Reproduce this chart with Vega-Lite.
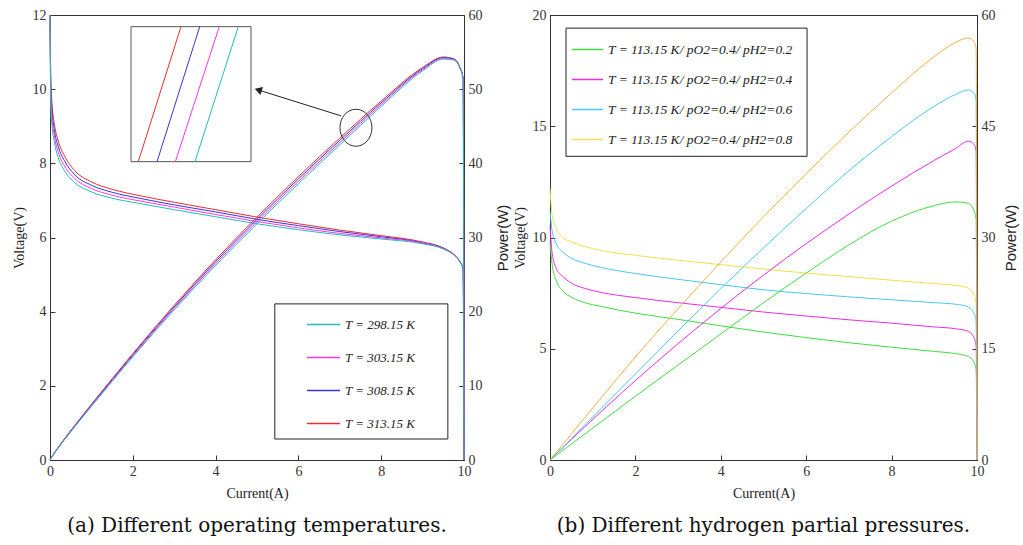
{
"$schema": "https://vega.github.io/schema/vega-lite/v6.json",
"background": "white",
"padding": {"left": 11, "top": 7, "right": 2, "bottom": 3},
"spacing": 1,
"config": {
  "view": {"stroke": "#333", "strokeWidth": 1},
  "axis": {"grid": false, "domainColor": "#333", "tickColor": "#333", "tickSize": -5, "labelFont": "Liberation Serif", "labelFontSize": 14, "labelColor": "#333", "labelPadding": 9, "labelFlush": false, "titleFont": "Liberation Serif", "titleFontSize": 14, "titleFontWeight": "normal", "titleColor": "#222"},
  "title": {"font": "DejaVu Serif", "fontSize": 20, "fontWeight": "normal", "color": "#111"}
},
"datasets": {
  "left": [
    {"s":"T = 313.15 K","I":0,"V":12.0,"P":0},{"s":"T = 313.15 K","I":0.02,"V":10.3,"P":0.21},{"s":"T = 313.15 K","I":0.05,"V":9.6,"P":0.48},{"s":"T = 313.15 K","I":0.1,"V":9.1,"P":0.91},{"s":"T = 313.15 K","I":0.2,"V":8.6,"P":1.72},{"s":"T = 313.15 K","I":0.35,"V":8.2,"P":2.87},{"s":"T = 313.15 K","I":0.6,"V":7.8,"P":4.68},{"s":"T = 313.15 K","I":1.0,"V":7.5,"P":7.5},{"s":"T = 313.15 K","I":1.5,"V":7.3,"P":10.95},{"s":"T = 313.15 K","I":2.2,"V":7.12,"P":15.66},{"s":"T = 313.15 K","I":3,"V":6.95,"P":20.85},{"s":"T = 313.15 K","I":4,"V":6.75,"P":27.0},{"s":"T = 313.15 K","I":5,"V":6.55,"P":32.75},{"s":"T = 313.15 K","I":6,"V":6.37,"P":38.22},{"s":"T = 313.15 K","I":7,"V":6.2,"P":43.4},{"s":"T = 313.15 K","I":8,"V":6.05,"P":48.4},{"s":"T = 313.15 K","I":9,"V":5.88,"P":52.92},{"s":"T = 313.15 K","I":9.5,"V":5.72,"P":54.34},{"s":"T = 313.15 K","I":9.75,"V":5.55,"P":54.11},{"s":"T = 313.15 K","I":9.9,"V":5.35,"P":52.97},{"s":"T = 313.15 K","I":9.98,"V":5.15,"P":51.4},{"s":"T = 313.15 K","I":10,"V":0,"P":0},
    {"s":"T = 308.15 K","I":0,"V":12.0,"P":0},{"s":"T = 308.15 K","I":0.02,"V":10.03,"P":0.2},{"s":"T = 308.15 K","I":0.05,"V":9.4,"P":0.47},{"s":"T = 308.15 K","I":0.1,"V":8.93,"P":0.89},{"s":"T = 308.15 K","I":0.2,"V":8.45,"P":1.69},{"s":"T = 308.15 K","I":0.35,"V":8.07,"P":2.82},{"s":"T = 308.15 K","I":0.6,"V":7.69,"P":4.62},{"s":"T = 308.15 K","I":1.0,"V":7.41,"P":7.41},{"s":"T = 308.15 K","I":1.5,"V":7.22,"P":10.83},{"s":"T = 308.15 K","I":2.2,"V":7.05,"P":15.51},{"s":"T = 308.15 K","I":3,"V":6.88,"P":20.65},{"s":"T = 308.15 K","I":4,"V":6.69,"P":26.75},{"s":"T = 308.15 K","I":5,"V":6.49,"P":32.45},{"s":"T = 308.15 K","I":6,"V":6.32,"P":37.9},{"s":"T = 308.15 K","I":7,"V":6.16,"P":43.1},{"s":"T = 308.15 K","I":8,"V":6.02,"P":48.16},{"s":"T = 308.15 K","I":9,"V":5.86,"P":52.77},{"s":"T = 308.15 K","I":9.5,"V":5.71,"P":54.25},{"s":"T = 308.15 K","I":9.75,"V":5.54,"P":54.04},{"s":"T = 308.15 K","I":9.9,"V":5.35,"P":52.94},{"s":"T = 308.15 K","I":9.98,"V":5.15,"P":51.4},{"s":"T = 308.15 K","I":10,"V":0,"P":0},
    {"s":"T = 303.15 K","I":0,"V":12.0,"P":0},{"s":"T = 303.15 K","I":0.02,"V":9.77,"P":0.2},{"s":"T = 303.15 K","I":0.05,"V":9.2,"P":0.46},{"s":"T = 303.15 K","I":0.1,"V":8.77,"P":0.88},{"s":"T = 303.15 K","I":0.2,"V":8.3,"P":1.66},{"s":"T = 303.15 K","I":0.35,"V":7.93,"P":2.78},{"s":"T = 303.15 K","I":0.6,"V":7.59,"P":4.55},{"s":"T = 303.15 K","I":1.0,"V":7.32,"P":7.32},{"s":"T = 303.15 K","I":1.5,"V":7.14,"P":10.71},{"s":"T = 303.15 K","I":2.2,"V":6.98,"P":15.36},{"s":"T = 303.15 K","I":3,"V":6.82,"P":20.45},{"s":"T = 303.15 K","I":4,"V":6.62,"P":26.49},{"s":"T = 303.15 K","I":5,"V":6.43,"P":32.15},{"s":"T = 303.15 K","I":6,"V":6.26,"P":37.58},{"s":"T = 303.15 K","I":7,"V":6.11,"P":42.79},{"s":"T = 303.15 K","I":8,"V":5.99,"P":47.92},{"s":"T = 303.15 K","I":9,"V":5.85,"P":52.62},{"s":"T = 303.15 K","I":9.5,"V":5.7,"P":54.15},{"s":"T = 303.15 K","I":9.75,"V":5.54,"P":53.99},{"s":"T = 303.15 K","I":9.9,"V":5.34,"P":52.9},{"s":"T = 303.15 K","I":9.98,"V":5.15,"P":51.4},{"s":"T = 303.15 K","I":10,"V":0,"P":0},
    {"s":"T = 298.15 K","I":0,"V":12.0,"P":0},{"s":"T = 298.15 K","I":0.02,"V":9.5,"P":0.19},{"s":"T = 298.15 K","I":0.05,"V":9.0,"P":0.45},{"s":"T = 298.15 K","I":0.1,"V":8.6,"P":0.86},{"s":"T = 298.15 K","I":0.2,"V":8.15,"P":1.63},{"s":"T = 298.15 K","I":0.35,"V":7.8,"P":2.73},{"s":"T = 298.15 K","I":0.6,"V":7.48,"P":4.49},{"s":"T = 298.15 K","I":1.0,"V":7.23,"P":7.23},{"s":"T = 298.15 K","I":1.5,"V":7.06,"P":10.59},{"s":"T = 298.15 K","I":2.2,"V":6.91,"P":15.2},{"s":"T = 298.15 K","I":3,"V":6.75,"P":20.25},{"s":"T = 298.15 K","I":4,"V":6.56,"P":26.24},{"s":"T = 298.15 K","I":5,"V":6.37,"P":31.85},{"s":"T = 298.15 K","I":6,"V":6.21,"P":37.26},{"s":"T = 298.15 K","I":7,"V":6.07,"P":42.49},{"s":"T = 298.15 K","I":8,"V":5.96,"P":47.68},{"s":"T = 298.15 K","I":9,"V":5.83,"P":52.47},{"s":"T = 298.15 K","I":9.5,"V":5.69,"P":54.06},{"s":"T = 298.15 K","I":9.75,"V":5.53,"P":53.92},{"s":"T = 298.15 K","I":9.9,"V":5.34,"P":52.87},{"s":"T = 298.15 K","I":9.98,"V":5.15,"P":51.4},{"s":"T = 298.15 K","I":10,"V":0,"P":0}
  ],
  "right": [
    {"s":"T = 113.15 K/ pO2=0.4/ pH2=0.2","I":0,"V":9.8,"P":0},{"s":"T = 113.15 K/ pO2=0.4/ pH2=0.2","I":0.05,"V":8.8,"P":0.21},{"s":"T = 113.15 K/ pO2=0.4/ pH2=0.2","I":0.15,"V":8.05,"P":0.64},{"s":"T = 113.15 K/ pO2=0.4/ pH2=0.2","I":0.3,"V":7.6,"P":1.29},{"s":"T = 113.15 K/ pO2=0.4/ pH2=0.2","I":0.5,"V":7.32,"P":2.15},{"s":"T = 113.15 K/ pO2=0.4/ pH2=0.2","I":0.8,"V":7.08,"P":3.44},{"s":"T = 113.15 K/ pO2=0.4/ pH2=0.2","I":1.2,"V":6.9,"P":5.16},{"s":"T = 113.15 K/ pO2=0.4/ pH2=0.2","I":2,"V":6.6,"P":8.6},{"s":"T = 113.15 K/ pO2=0.4/ pH2=0.2","I":3,"V":6.32,"P":12.8},{"s":"T = 113.15 K/ pO2=0.4/ pH2=0.2","I":4,"V":6.03,"P":17.0},{"s":"T = 113.15 K/ pO2=0.4/ pH2=0.2","I":5,"V":5.75,"P":21.2},{"s":"T = 113.15 K/ pO2=0.4/ pH2=0.2","I":6,"V":5.5,"P":25.2},{"s":"T = 113.15 K/ pO2=0.4/ pH2=0.2","I":7,"V":5.27,"P":29.0},{"s":"T = 113.15 K/ pO2=0.4/ pH2=0.2","I":8,"V":5.07,"P":32.2},{"s":"T = 113.15 K/ pO2=0.4/ pH2=0.2","I":9,"V":4.88,"P":34.3},{"s":"T = 113.15 K/ pO2=0.4/ pH2=0.2","I":9.5,"V":4.78,"P":34.8},{"s":"T = 113.15 K/ pO2=0.4/ pH2=0.2","I":9.8,"V":4.65,"P":34.6},{"s":"T = 113.15 K/ pO2=0.4/ pH2=0.2","I":9.95,"V":4.3,"P":33.3},{"s":"T = 113.15 K/ pO2=0.4/ pH2=0.2","I":9.98,"V":4.0,"P":32.4},{"s":"T = 113.15 K/ pO2=0.4/ pH2=0.2","I":10,"V":0,"P":0},
    {"s":"T = 113.15 K/ pO2=0.4/ pH2=0.4","I":0,"V":10.5,"P":0},{"s":"T = 113.15 K/ pO2=0.4/ pH2=0.4","I":0.05,"V":9.3,"P":0.28},{"s":"T = 113.15 K/ pO2=0.4/ pH2=0.4","I":0.15,"V":8.6,"P":0.84},{"s":"T = 113.15 K/ pO2=0.4/ pH2=0.4","I":0.3,"V":8.25,"P":1.67},{"s":"T = 113.15 K/ pO2=0.4/ pH2=0.4","I":0.5,"V":7.95,"P":2.77},{"s":"T = 113.15 K/ pO2=0.4/ pH2=0.4","I":0.8,"V":7.72,"P":4.4},{"s":"T = 113.15 K/ pO2=0.4/ pH2=0.4","I":1.2,"V":7.53,"P":6.54},{"s":"T = 113.15 K/ pO2=0.4/ pH2=0.4","I":2,"V":7.3,"P":10.71},{"s":"T = 113.15 K/ pO2=0.4/ pH2=0.4","I":3,"V":7.07,"P":15.69},{"s":"T = 113.15 K/ pO2=0.4/ pH2=0.4","I":4,"V":6.86,"P":20.43},{"s":"T = 113.15 K/ pO2=0.4/ pH2=0.4","I":5,"V":6.65,"P":24.93},{"s":"T = 113.15 K/ pO2=0.4/ pH2=0.4","I":6,"V":6.47,"P":29.17},{"s":"T = 113.15 K/ pO2=0.4/ pH2=0.4","I":7,"V":6.3,"P":33.17},{"s":"T = 113.15 K/ pO2=0.4/ pH2=0.4","I":8,"V":6.15,"P":36.93},{"s":"T = 113.15 K/ pO2=0.4/ pH2=0.4","I":9,"V":5.98,"P":40.4},{"s":"T = 113.15 K/ pO2=0.4/ pH2=0.4","I":9.5,"V":5.9,"P":42.0},{"s":"T = 113.15 K/ pO2=0.4/ pH2=0.4","I":9.8,"V":5.78,"P":43.0},{"s":"T = 113.15 K/ pO2=0.4/ pH2=0.4","I":9.95,"V":5.4,"P":42.4},{"s":"T = 113.15 K/ pO2=0.4/ pH2=0.4","I":9.98,"V":5.1,"P":41.6},{"s":"T = 113.15 K/ pO2=0.4/ pH2=0.4","I":10,"V":0,"P":0},
    {"s":"T = 113.15 K/ pO2=0.4/ pH2=0.6","I":0,"V":11.2,"P":0},{"s":"T = 113.15 K/ pO2=0.4/ pH2=0.6","I":0.05,"V":10.3,"P":0.29},{"s":"T = 113.15 K/ pO2=0.4/ pH2=0.6","I":0.15,"V":9.7,"P":0.87},{"s":"T = 113.15 K/ pO2=0.4/ pH2=0.6","I":0.3,"V":9.35,"P":1.74},{"s":"T = 113.15 K/ pO2=0.4/ pH2=0.6","I":0.5,"V":9.07,"P":2.9},{"s":"T = 113.15 K/ pO2=0.4/ pH2=0.6","I":0.8,"V":8.85,"P":4.64},{"s":"T = 113.15 K/ pO2=0.4/ pH2=0.6","I":1.2,"V":8.65,"P":6.96},{"s":"T = 113.15 K/ pO2=0.4/ pH2=0.6","I":2,"V":8.38,"P":11.6},{"s":"T = 113.15 K/ pO2=0.4/ pH2=0.6","I":3,"V":8.12,"P":17.4},{"s":"T = 113.15 K/ pO2=0.4/ pH2=0.6","I":4,"V":7.88,"P":23.1},{"s":"T = 113.15 K/ pO2=0.4/ pH2=0.6","I":5,"V":7.65,"P":28.6},{"s":"T = 113.15 K/ pO2=0.4/ pH2=0.6","I":6,"V":7.48,"P":33.9},{"s":"T = 113.15 K/ pO2=0.4/ pH2=0.6","I":7,"V":7.33,"P":39.0},{"s":"T = 113.15 K/ pO2=0.4/ pH2=0.6","I":8,"V":7.2,"P":43.6},{"s":"T = 113.15 K/ pO2=0.4/ pH2=0.6","I":9,"V":7.07,"P":47.7},{"s":"T = 113.15 K/ pO2=0.4/ pH2=0.6","I":9.5,"V":7.0,"P":49.3},{"s":"T = 113.15 K/ pO2=0.4/ pH2=0.6","I":9.8,"V":6.88,"P":49.9},{"s":"T = 113.15 K/ pO2=0.4/ pH2=0.6","I":9.95,"V":6.5,"P":49.3},{"s":"T = 113.15 K/ pO2=0.4/ pH2=0.6","I":9.98,"V":6.2,"P":48.5},{"s":"T = 113.15 K/ pO2=0.4/ pH2=0.6","I":10,"V":0,"P":0},
    {"s":"T = 113.15 K/ pO2=0.4/ pH2=0.8","I":0,"V":12.2,"P":0},{"s":"T = 113.15 K/ pO2=0.4/ pH2=0.8","I":0.05,"V":11.0,"P":0.35},{"s":"T = 113.15 K/ pO2=0.4/ pH2=0.8","I":0.15,"V":10.4,"P":1.05},{"s":"T = 113.15 K/ pO2=0.4/ pH2=0.8","I":0.3,"V":10.0,"P":2.1},{"s":"T = 113.15 K/ pO2=0.4/ pH2=0.8","I":0.5,"V":9.8,"P":3.5},{"s":"T = 113.15 K/ pO2=0.4/ pH2=0.8","I":0.8,"V":9.6,"P":5.6},{"s":"T = 113.15 K/ pO2=0.4/ pH2=0.8","I":1.2,"V":9.42,"P":8.4},{"s":"T = 113.15 K/ pO2=0.4/ pH2=0.8","I":2,"V":9.2,"P":13.9},{"s":"T = 113.15 K/ pO2=0.4/ pH2=0.8","I":3,"V":8.98,"P":20.4},{"s":"T = 113.15 K/ pO2=0.4/ pH2=0.8","I":4,"V":8.78,"P":26.7},{"s":"T = 113.15 K/ pO2=0.4/ pH2=0.8","I":5,"V":8.58,"P":32.8},{"s":"T = 113.15 K/ pO2=0.4/ pH2=0.8","I":6,"V":8.4,"P":38.6},{"s":"T = 113.15 K/ pO2=0.4/ pH2=0.8","I":7,"V":8.24,"P":44.2},{"s":"T = 113.15 K/ pO2=0.4/ pH2=0.8","I":8,"V":8.08,"P":49.5},{"s":"T = 113.15 K/ pO2=0.4/ pH2=0.8","I":9,"V":7.93,"P":54.4},{"s":"T = 113.15 K/ pO2=0.4/ pH2=0.8","I":9.5,"V":7.85,"P":56.3},{"s":"T = 113.15 K/ pO2=0.4/ pH2=0.8","I":9.8,"V":7.72,"P":56.9},{"s":"T = 113.15 K/ pO2=0.4/ pH2=0.8","I":9.95,"V":7.35,"P":56.2},{"s":"T = 113.15 K/ pO2=0.4/ pH2=0.8","I":9.98,"V":7.0,"P":55.5},{"s":"T = 113.15 K/ pO2=0.4/ pH2=0.8","I":10,"V":0,"P":0}
  ]
},
"resolve": {"scale": {"color": "independent"}},
"hconcat": [
  {
    "width": 414, "height": 445,
    "title": {"text": "(a) Different operating temperatures.", "orient": "bottom", "anchor": "middle", "offset": 16},
    "encoding": {"x": {"field": "I", "type": "quantitative", "scale": {"domain": [0, 10], "nice": false}, "axis": {"title": "Current(A)", "values": [0,2,4,6,8,10], "orient": "bottom", "titlePadding": 8}}},
    "layer": [
      {"data": {"name": "left"}, "mark": {"type": "line", "strokeWidth": 1, "interpolate": "monotone"},
       "encoding": {
         "y": {"field": "V", "type": "quantitative", "scale": {"domain": [0, 12], "nice": false}, "axis": {"title": "Voltage(V)", "values": [0,2,4,6,8,10,12], "orient": "left", "titlePadding": 6}},
         "color": {"field": "s", "type": "nominal", "scale": {"domain": ["T = 298.15 K","T = 303.15 K","T = 308.15 K","T = 313.15 K"], "range": ["#1fc0b4","#ff33ee","#3434e0","#ee2b2b"]},
           "legend": {"orient": "none", "legendX": 256, "legendY": 292, "title": null, "symbolType": "stroke", "symbolSize": 1089, "symbolStrokeWidth": 1.3, "labelFont": "Liberation Serif", "labelFontStyle": "italic", "labelFontSize": 13, "labelColor": "#222", "rowPadding": 8, "labelOffset": 4}}
       }},
      {"data": {"name": "left"}, "mark": {"type": "line", "strokeWidth": 1, "interpolate": "monotone"},
       "encoding": {
         "y": {"field": "P", "type": "quantitative", "scale": {"domain": [0, 60], "nice": false}, "axis": {"title": "Power(W)", "titleFont": "Liberation Sans", "titleFontSize": 15, "titleAngle": 270, "titleBaseline": "top", "values": [0,10,20,30,40,50,60], "orient": "right", "titlePadding": 13}},
         "color": {"field": "s", "type": "nominal"}
       }},
      {"data": {"values": [{"I": 5.43, "I2": 9.61, "V": 4.21, "V2": 0.566}]}, "mark": {"type": "rect", "fill": "white", "stroke": "#222", "strokeWidth": 1},
       "encoding": {"x2": {"field": "I2"}, "y": {"field": "V", "type": "quantitative", "scale": {"domain": [0, 12], "nice": false}, "axis": null}, "y2": {"field": "V2"}}},
      {"data": {"values": [{"I": 1.957, "I2": 4.855, "V": 11.686, "V2": 8.045}]}, "mark": {"type": "rect", "fill": "white", "stroke": "#555", "strokeWidth": 1},
       "encoding": {"x2": {"field": "I2"}, "y": {"field": "V", "type": "quantitative", "scale": {"domain": [0, 12], "nice": false}, "axis": null}, "y2": {"field": "V2"}}},
      {"data": {"values": [
         {"s": "T = 313.15 K", "I": 2.133, "I2": 3.164, "V": 8.045, "V2": 11.686},
         {"s": "T = 308.15 K", "I": 2.585, "I2": 3.616, "V": 8.045, "V2": 11.686},
         {"s": "T = 303.15 K", "I": 3.027, "I2": 4.089, "V": 8.045, "V2": 11.686},
         {"s": "T = 298.15 K", "I": 3.502, "I2": 4.548, "V": 8.045, "V2": 11.686}]},
       "mark": {"type": "rule", "strokeWidth": 1},
       "encoding": {"x2": {"field": "I2"}, "y": {"field": "V", "type": "quantitative", "scale": {"domain": [0, 12], "nice": false}, "axis": null}, "y2": {"field": "V2"}, "color": {"field": "s", "type": "nominal"}}},
      {"data": {"values": [{"I": 7.03, "I2": 5.0, "V": 9.28, "V2": 9.99}]}, "mark": {"type": "rule", "stroke": "#222", "strokeWidth": 1},
       "encoding": {"x2": {"field": "I2"}, "y": {"field": "V", "type": "quantitative", "scale": {"domain": [0, 12], "nice": false}, "axis": null}, "y2": {"field": "V2"}}},
      {"data": {"values": [{"I": 5.03, "V": 9.98}]}, "mark": {"type": "point", "shape": "triangle-left", "filled": true, "fill": "#222", "size": 70, "angle": 17.5, "opacity": 1},
       "encoding": {"y": {"field": "V", "type": "quantitative", "scale": {"domain": [0, 12], "nice": false}, "axis": null}}},
      {"data": {"values": [{"I": 7.39, "V": 8.96}]}, "mark": {"type": "point", "shape": "M -0.865 0 A 0.865 1 0 1 1 0.865 0 A 0.865 1 0 1 1 -0.865 0 Z", "filled": false, "stroke": "#333", "strokeWidth": 1, "size": 1369, "opacity": 1},
       "encoding": {"y": {"field": "V", "type": "quantitative", "scale": {"domain": [0, 12], "nice": false}, "axis": null}}}
    ],
    "resolve": {"scale": {"y": "independent"}}
  },
  {
    "width": 427, "height": 445,
    "title": {"text": "(b) Different hydrogen partial pressures.", "orient": "bottom", "anchor": "middle", "offset": 16},
    "encoding": {"x": {"field": "I", "type": "quantitative", "scale": {"domain": [0, 10], "nice": false}, "axis": {"title": "Current(A)", "values": [0,2,4,6,8,10], "orient": "bottom", "titlePadding": 8}}},
    "layer": [
      {"data": {"name": "right"}, "mark": {"type": "line", "strokeWidth": 1, "interpolate": "monotone"},
       "encoding": {
         "y": {"field": "V", "type": "quantitative", "scale": {"domain": [0, 20], "nice": false}, "axis": {"title": "Voltage(V)", "values": [0,5,10,15,20], "orient": "left", "titlePadding": 5}},
         "color": {"field": "s", "type": "nominal", "scale": {"domain": ["T = 113.15 K/ pO2=0.4/ pH2=0.2","T = 113.15 K/ pO2=0.4/ pH2=0.4","T = 113.15 K/ pO2=0.4/ pH2=0.6","T = 113.15 K/ pO2=0.4/ pH2=0.8"], "range": ["#40dd40","#f02ae6","#48c8f4","#f2df4c"]},
           "legend": {"orient": "none", "legendX": 21, "legendY": 18, "title": null, "symbolType": "stroke", "symbolSize": 961, "symbolStrokeWidth": 1.5, "labelFont": "Liberation Serif", "labelFontStyle": "italic", "labelFontSize": 13.5, "labelColor": "#222", "rowPadding": 7, "labelOffset": 4, "labelLimit": 300}}
       }},
      {"data": {"name": "right"}, "mark": {"type": "line", "strokeWidth": 1, "interpolate": "monotone"},
       "encoding": {
         "y": {"field": "P", "type": "quantitative", "scale": {"domain": [0, 60], "nice": false}, "axis": {"title": "Power(W)", "titleFont": "Liberation Sans", "titleFontSize": 15, "titleAngle": 270, "titleBaseline": "top", "values": [0,15,30,45,60], "orient": "right", "titlePadding": 8}},
         "color": {"field": "s", "type": "nominal", "scale": {"domain": ["T = 113.15 K/ pO2=0.4/ pH2=0.2","T = 113.15 K/ pO2=0.4/ pH2=0.4","T = 113.15 K/ pO2=0.4/ pH2=0.6","T = 113.15 K/ pO2=0.4/ pH2=0.8"], "range": ["#40dd40","#f02ae6","#48c8f4","#f4b040"]}, "legend": null}
       }},
      {"data": {"values": [{"I": 0.375, "I2": 6.02, "V": 19.41, "V2": 13.65}]}, "mark": {"type": "rect", "fill": "white", "stroke": "#222", "strokeWidth": 1},
       "encoding": {"x2": {"field": "I2"}, "y": {"field": "V", "type": "quantitative", "scale": {"domain": [0, 20], "nice": false}, "axis": null}, "y2": {"field": "V2"}}}
    ],
    "resolve": {"scale": {"y": "independent", "color": "independent"}}
  }
]
}
